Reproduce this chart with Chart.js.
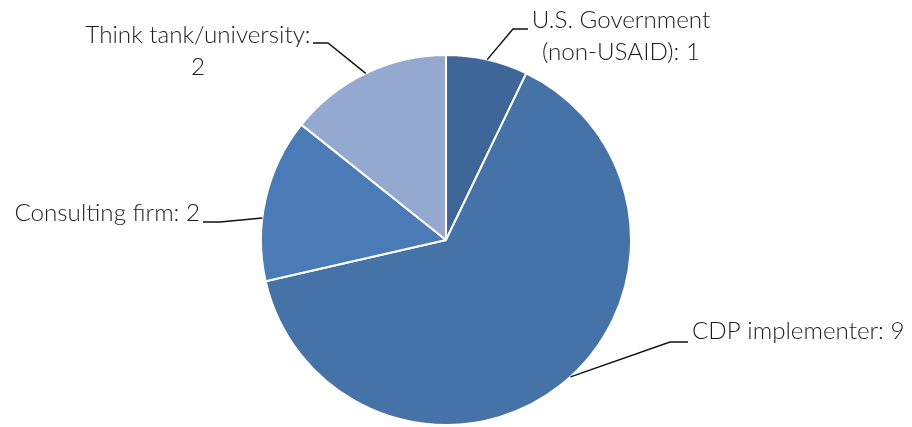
<!DOCTYPE html>
<html>
<head>
<meta charset="utf-8">
<script src="https://cdn.jsdelivr.net/npm/chart.js@4/dist/chart.umd.min.js"></script>
<style>
  html, body { margin: 0; padding: 0; background: #fff; }
  #wrap { width: 912px; height: 427px; position: relative; }
</style>
</head>
<body>
<div id="wrap"><canvas id="pie"></canvas></div>
<script>
const categories = ['U.S. Government (non-USAID)', 'CDP implementer', 'Consulting firm', 'Think tank/university'];
const counts = [1, 9, 2, 2];
const sliceColors = ['#3E6698', '#4573A7', '#4A7BB7', '#95A9D0'];

// label text lines, offsets from the pie centre, and leader shape per slice
const labelText = [
  ['U.S. Government', '(non-USAID): ' + counts[0]],
  [categories[1] + ': ' + counts[1]],
  [categories[2] + ': ' + counts[2]],
  ['Think tank/university:', String(counts[3])],
];
const labelStyle = [
  { tx: 175, ty: -220, align: 'center', shift: 0, elbow: [67, -211], end: [82, -211] },
  { tx: 246, ty: 91, align: 'left', shift: -3.7, elbow: [224, 102], end: [242, 102] },
  { tx: -246, ty: -27, align: 'right', shift: -6, elbow: [-226, -18], end: [-243, -18] },
  { tx: -248, ty: -205, align: 'center', shift: 0, elbow: [-118, -197], end: [-133, -197] },
];

const leaderLabels = {
  id: 'leaderLabels',
  afterDatasetsDraw(chart) {
    const ctx = chart.ctx;
    const arcs = chart.getDatasetMeta(0).data;
    ctx.save();
    ctx.font = '300 24.2px Lato, "Open Sans", sans-serif';
    ctx.fillStyle = '#1c1c1c';
    ctx.strokeStyle = '#111';
    ctx.lineWidth = 1.5;
    arcs.forEach((arc, i) => {
      const s = labelStyle[i];
      const cx = arc.x, cy = arc.y, r = arc.outerRadius;
      const mid = (arc.startAngle + arc.endAngle) / 2 + s.shift * Math.PI / 180;
      ctx.beginPath();
      ctx.moveTo(cx + r * Math.cos(mid), cy + r * Math.sin(mid));
      ctx.lineTo(cx + s.elbow[0], cy + s.elbow[1]);
      ctx.lineTo(cx + s.end[0], cy + s.end[1]);
      ctx.stroke();
      ctx.textAlign = s.align;
      ctx.textBaseline = 'middle';
      labelText[i].forEach((line, k) => {
        ctx.fillText(line, cx + s.tx, cy + s.ty + k * 32);
      });
    });
    ctx.restore();
  },
};

new Chart(document.getElementById('pie'), {
  type: 'pie',
  data: {
    labels: categories,
    datasets: [{
      data: counts,
      backgroundColor: sliceColors,
      borderColor: '#fff',
      borderWidth: 2,
    }],
  },
  options: {
    responsive: true,
    maintainAspectRatio: false,
    animation: false,
    layout: { padding: { left: 260, right: 280, top: 54, bottom: 1 } },
    plugins: {
      legend: { display: false },
      tooltip: { enabled: false },
    },
  },
  plugins: [leaderLabels],
});
</script>
</body>
</html>
